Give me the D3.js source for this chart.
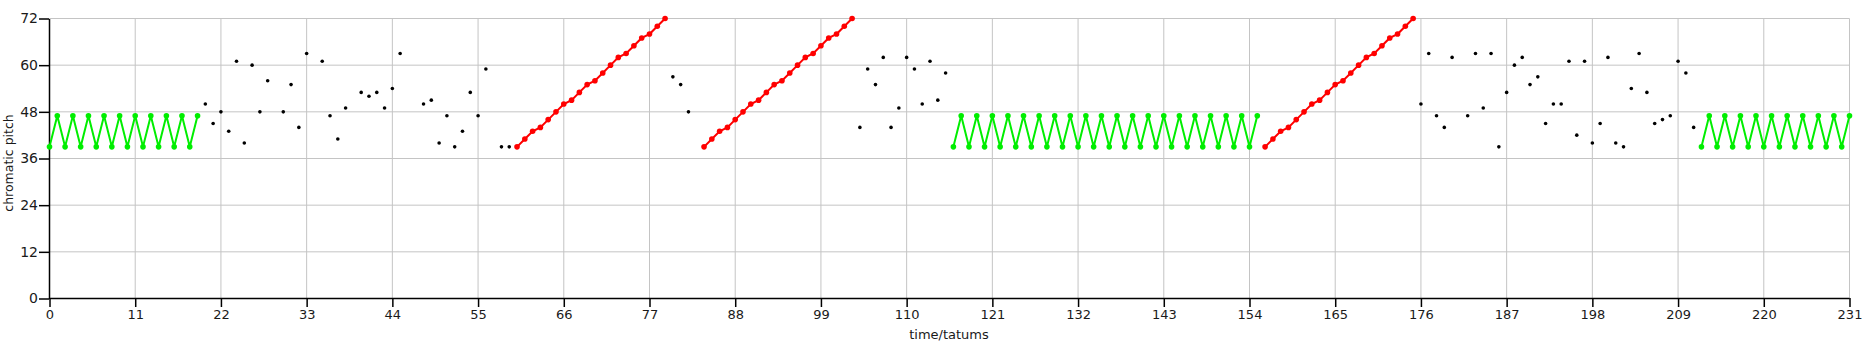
<!DOCTYPE html>
<html>
<head>
<meta charset="utf-8" />
<title>chromatic pitch over time</title>
<script src="https://d3js.org/d3.v7.min.js"></script>
<style>
body { margin: 0; background: #fff; }
svg { display: block; font-family: "DejaVu Sans", sans-serif; }
.grid line { stroke: #c4c4c4; stroke-width: 1; }
.axis path, .axis line { stroke: #000; stroke-width: 1.5; }
.axis text { fill: #1a1a1a; }
</style>
</head>
<body>
<div id="viz"></div>
<script>

// tick labels
var xTicks = [0, 11, 22, 33, 44, 55, 66, 77, 88, 99, 110, 121, 132, 143, 154, 165, 176, 187, 198, 209, 220, 231];
var yTicks = [0, 12, 24, 36, 48, 60, 72];

// green zigzag runs (start tatum + one pitch per tatum)
var green1Start = 0;
var green1Pitch = [39,47,39,47,39,47,39,47,39,47,39,47,39,47,39,47,39,47,39,47];
var green2Start = 116;
var green2Pitch = [39,47,39,47,39,47,39,47,39,47,39,47,39,47,39,47,39,47,39,47,
                   39,47,39,47,39,47,39,47,39,47,39,47,39,47,39,47,39,47,39,47];
var green3Start = 212;
var green3Pitch = [39,47,39,47,39,47,39,47,39,47,39,47,39,47,39,47,39,47,39,47];

// red ascending runs
var red1Start = 60;
var red1Pitch = [39,41,43,44,46,48,50,51,53,55,56,58,60,62,63,65,67,68,70,72];
var red2Start = 84;
var red2Pitch = [39,41,43,44,46,48,50,51,53,55,56,58,60,62,63,65,67,68,70,72];
var red3Start = 156;
var red3Pitch = [39,41,43,44,46,48,50,51,53,55,56,58,60,62,63,65,67,68,70,72];

// scattered black notes
var dotTimes = [20,21,22,23,24,25,26,27,28,30,31,32,33,35,36,37,38,40,41,42,43,44,45,
                48,49,50,51,52,53,54,55,56,58,59,
                80,81,82,
                104,105,106,107,108,109,110,111,112,113,114,115,
                176,177,178,179,180,182,183,184,185,186,187,188,189,190,191,192,193,194,
                195,196,197,198,199,200,201,202,203,204,205,206,207,208,209,210,211];
var dotPitches = [50,45,48,43,61,40,60,48,56,48,55,44,63,61,47,41,49,53,52,53,49,54,63,
                  50,51,40,47,39,43,53,47,59,39,39,
                  57,55,48,
                  44,59,55,62,44,49,62,59,50,61,51,58,
                  50,63,47,44,62,47,63,49,63,39,53,60,62,55,57,45,50,50,
                  61,42,61,40,45,62,40,39,54,63,53,45,46,47,61,58,44];

var totalW = 1876, totalH = 347;
var margin = {top: 18, right: 27, bottom: 49, left: 49};
var width = totalW - margin.left - margin.right,
    height = totalH - margin.top - margin.bottom;

var svg = d3.select("#viz").append("svg")
    .attr("width", totalW)
    .attr("height", totalH);

var g = svg.append("g")
    .attr("transform", "translate(" + margin.left + "," + margin.top + ")");

var x = d3.scaleLinear().domain([0, 231]).range([0.5, width + 0.5]);
var y = d3.scaleLinear().domain([0, 72]).range([height + 0.5, 0.5]);

// grid
var grid = g.append("g").attr("class", "grid");
grid.selectAll(".gx").data(xTicks).enter().append("line")
    .attr("x1", function(d) { return x(d); })
    .attr("x2", function(d) { return x(d); })
    .attr("y1", y(0)).attr("y2", y(72));
grid.selectAll(".gy").data(yTicks).enter().append("line")
    .attr("x1", x(0)).attr("x2", x(231))
    .attr("y1", function(d) { return y(d); })
    .attr("y2", function(d) { return y(d); });

// axes
var xAxis = g.append("g")
    .attr("class", "axis")
    .attr("transform", "translate(0," + (height) + ")")
    .call(d3.axisBottom(x).tickValues(xTicks).tickSize(9).tickSizeOuter(0).tickPadding(3));
xAxis.selectAll("text").attr("font-size", 13).attr("font-family", "DejaVu Sans");
xAxis.select(".domain").attr("d", "M" + x(0) + ",0.5H" + x(231));

var yAxis = g.append("g")
    .attr("class", "axis")
    .call(d3.axisLeft(y).tickValues(yTicks).tickSize(10).tickSizeOuter(0).tickPadding(1));
yAxis.selectAll("text").attr("font-size", 14).attr("font-family", "DejaVu Sans");

svg.append("text")
    .attr("x", margin.left + width / 2)
    .attr("y", 339)
    .attr("text-anchor", "middle")
    .attr("font-size", 13)
    .attr("fill", "#1a1a1a")
    .text("time/tatums");

svg.append("text")
    .attr("transform", "translate(13," + (margin.top + height / 2 + 5) + ") rotate(-90)")
    .attr("text-anchor", "middle")
    .attr("font-size", 12.5)
    .attr("fill", "#1a1a1a")
    .text("chromatic pitch");

function toPoints(start, pitches) {
  return pitches.map(function(p, i) { return {t: start + i, p: p}; });
}

var line = d3.line()
    .x(function(d) { return x(d.t); })
    .y(function(d) { return y(d.p); });

function drawRun(points, color) {
  g.append("path")
      .datum(points)
      .attr("d", line)
      .attr("fill", "none")
      .attr("stroke", color)
      .attr("stroke-width", 2);
  g.append("g").selectAll("circle")
    .data(points)
    .enter().append("circle")
      .attr("cx", function(d) { return x(d.t); })
      .attr("cy", function(d) { return y(d.p); })
      .attr("r", 2.8)
      .attr("fill", color);
}

drawRun(toPoints(green1Start, green1Pitch), "#00ee00");
drawRun(toPoints(green2Start, green2Pitch), "#00ee00");
drawRun(toPoints(green3Start, green3Pitch), "#00ee00");
drawRun(toPoints(red1Start, red1Pitch), "#ff0000");
drawRun(toPoints(red2Start, red2Pitch), "#ff0000");
drawRun(toPoints(red3Start, red3Pitch), "#ff0000");

g.append("g").selectAll("circle")
  .data(dotTimes)
  .enter().append("circle")
    .attr("cx", function(d) { return x(d); })
    .attr("cy", function(d, i) { return y(dotPitches[i]); })
    .attr("r", 1.8)
    .attr("fill", "#000");

</script>
</body>
</html>
